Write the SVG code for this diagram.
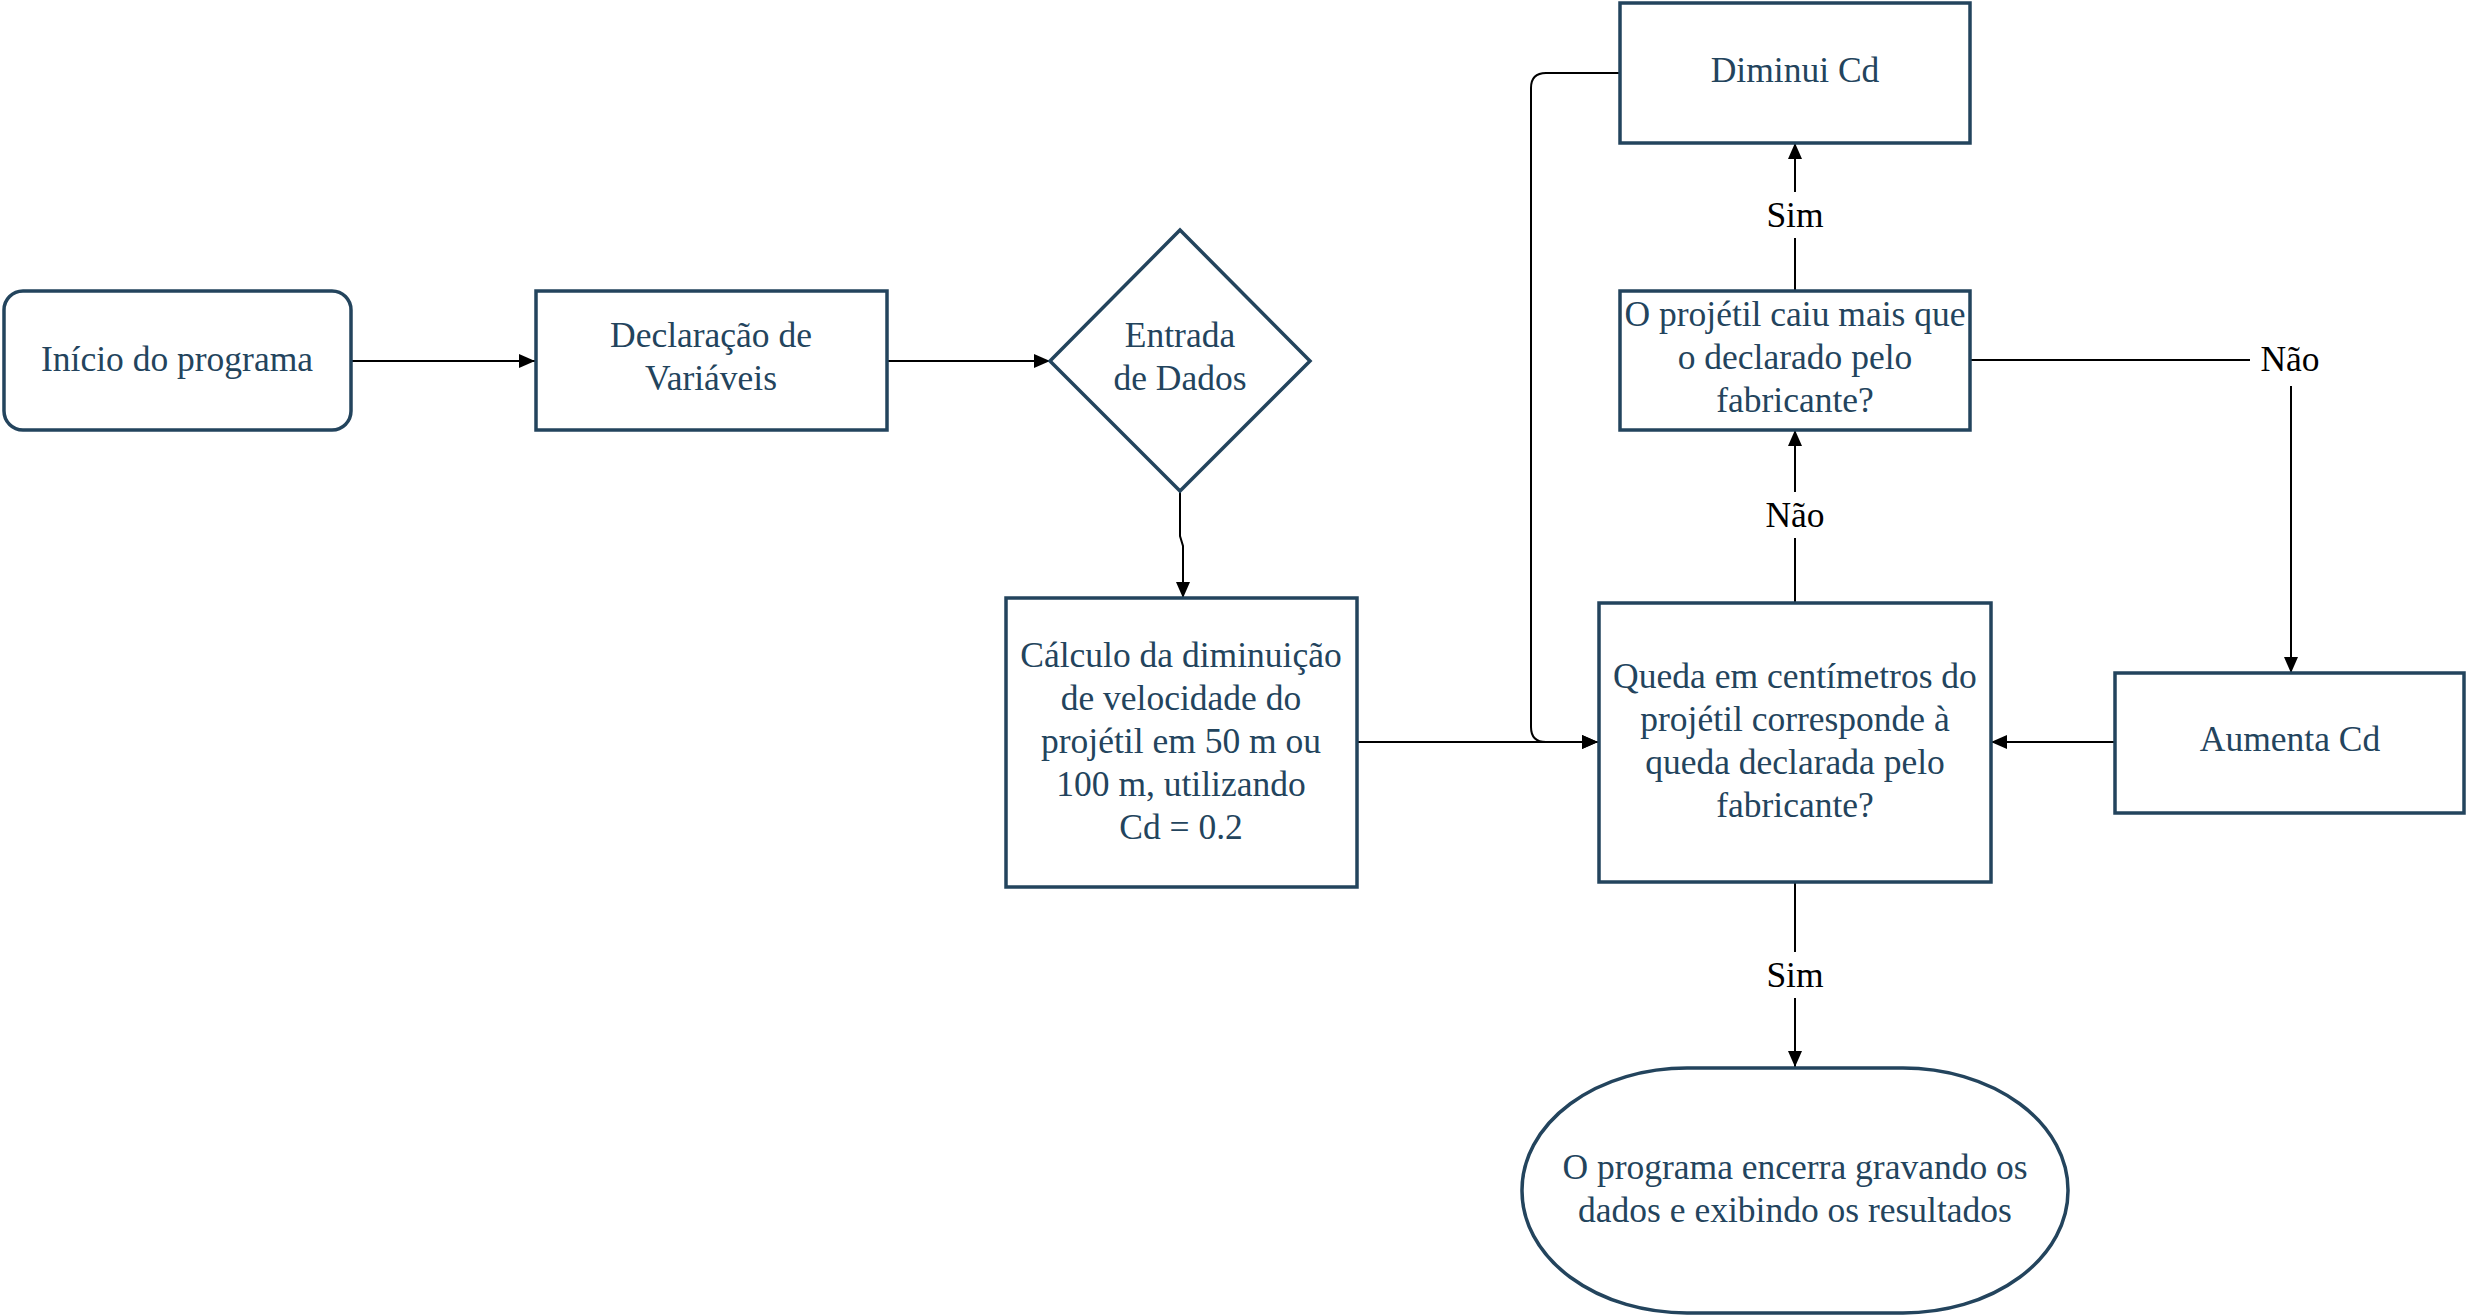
<svg xmlns="http://www.w3.org/2000/svg" width="2466" height="1316" viewBox="0 0 2466 1316">
<style>
.n{fill:#ffffff;stroke:#23445D;stroke-width:3.5}
.t{font-family:'Liberation Serif','DejaVu Serif',serif;font-size:35.5px;fill:#23445D;text-anchor:middle}
.l{font-family:'Liberation Serif','DejaVu Serif',serif;font-size:35.5px;fill:#000000;text-anchor:middle}
.c{fill:none;stroke:#000000;stroke-width:2}
.lb{fill:#ffffff;stroke:none}
</style>
<defs>
<marker id="a" viewBox="0 0 16 14" refX="16" refY="7" markerWidth="16" markerHeight="14" markerUnits="userSpaceOnUse" orient="auto">
<path d="M0,0 L16,7 L0,14 Z" fill="#000000"/>
</marker>
</defs>
<rect width="2466" height="1316" fill="#ffffff"/>
<g id="connectors">
<path class="c" d="M352,361 H535" marker-end="url(#a)"/>
<path class="c" d="M887,361 H1050" marker-end="url(#a)"/>
<path class="c" d="M1180,491 V536 L1183,546 V598" marker-end="url(#a)"/>
<path class="c" d="M1357,742 H1598" marker-end="url(#a)"/>
<path class="c" d="M1619,73 H1546 Q1531,73 1531,88 V727 Q1531,742 1546,742 H1598" marker-end="url(#a)"/>
<path class="c" d="M1795,603 V430" marker-end="url(#a)"/>
<path class="c" d="M1795,291 V143" marker-end="url(#a)"/>
<path class="c" d="M1970,360 H2291 V673" marker-end="url(#a)"/>
<path class="c" d="M2114,742 H1991" marker-end="url(#a)"/>
<path class="c" d="M1795,882 V1067" marker-end="url(#a)"/>
<rect class="lb" x="1765" y="192" width="60" height="46"/>
<text class="l" x="1795" y="227">Sim</text>
<rect class="lb" x="1763" y="492" width="64" height="46"/>
<text class="l" x="1795" y="527">Não</text>
<rect class="lb" x="2250" y="336" width="82" height="50"/>
<text class="l" x="2290" y="371">Não</text>
<rect class="lb" x="1765" y="952" width="60" height="46"/>
<text class="l" x="1795" y="987">Sim</text>
</g>
<g id="inicio">
<rect class="n" x="4" y="291" width="347" height="139" rx="19"/>
<text class="t" x="177" y="371">Início do programa</text>
</g>
<g id="declaracao">
<rect class="n" x="536" y="291" width="351" height="139"/>
<text class="t" x="711" y="347">Declaração de</text>
<text class="t" x="711" y="390">Variáveis</text>
</g>
<g id="entrada">
<path class="n" d="M1180,230 L1310,361 L1180,491 L1050,361 Z"/>
<text class="t" x="1180" y="347">Entrada</text>
<text class="t" x="1180" y="390">de Dados</text>
</g>
<g id="calculo">
<rect class="n" x="1006" y="598" width="351" height="289"/>
<text class="t" x="1181" y="667">Cálculo da diminuição</text>
<text class="t" x="1181" y="710">de velocidade do</text>
<text class="t" x="1181" y="753">projétil em 50 m ou</text>
<text class="t" x="1181" y="796">100 m, utilizando</text>
<text class="t" x="1181" y="839">Cd = 0.2</text>
</g>
<g id="diminui">
<rect class="n" x="1620" y="3" width="350" height="140"/>
<text class="t" x="1795" y="82">Diminui Cd</text>
</g>
<g id="caiu">
<rect class="n" x="1620" y="291" width="350" height="139"/>
<text class="t" x="1795" y="326">O projétil caiu mais que</text>
<text class="t" x="1795" y="369">o declarado pelo</text>
<text class="t" x="1795" y="412">fabricante?</text>
</g>
<g id="queda">
<rect class="n" x="1599" y="603" width="392" height="279"/>
<text class="t" x="1795" y="688">Queda em centímetros do</text>
<text class="t" x="1795" y="731">projétil corresponde à</text>
<text class="t" x="1795" y="774">queda declarada pelo</text>
<text class="t" x="1795" y="817">fabricante?</text>
</g>
<g id="aumenta">
<rect class="n" x="2115" y="673" width="349" height="140"/>
<text class="t" x="2290" y="751">Aumenta Cd</text>
</g>
<g id="fim">
<rect class="n" x="1522" y="1068" width="546" height="245" rx="165" ry="122"/>
<text class="t" x="1795" y="1179">O programa encerra gravando os</text>
<text class="t" x="1795" y="1222">dados e exibindo os resultados</text>
</g>
</svg>
